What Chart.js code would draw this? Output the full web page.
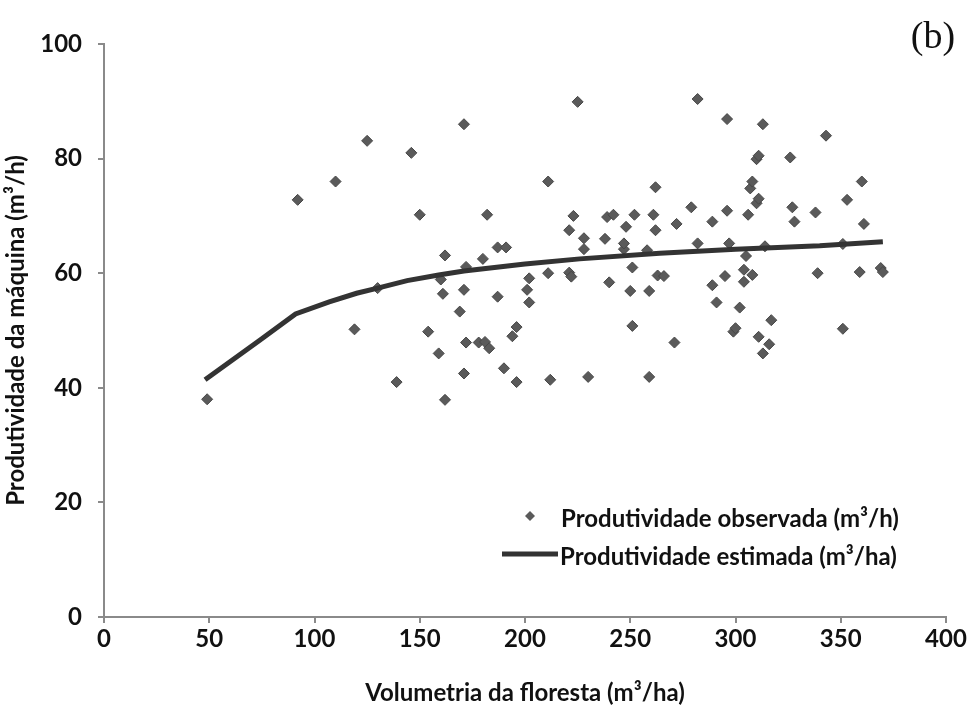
<!DOCTYPE html>
<html>
<head>
<meta charset="utf-8">
<script src="https://cdn.jsdelivr.net/npm/chart.js@4"></script>
<style>
  html, body { margin: 0; padding: 0; background: #fff; }
  #wrap { position: relative; width: 973px; height: 712px; }
</style>
</head>
<body>
<div id="wrap"><canvas id="prodChart" width="973" height="712"></canvas></div>
<script>
const volObs = [49, 92, 110, 125, 130, 119,
  139, 146, 150, 154, 159, 160, 161, 162, 162, 169, 171, 172, 171, 172, 171, 178, 180, 181, 183, 182,
  187, 191, 187, 190, 194, 196, 196, 201, 202, 202, 211, 211, 212, 221, 222, 221, 223, 225, 228, 228,
  230, 238, 239, 242, 240, 247, 247, 248, 250, 251, 251, 252, 258, 259, 259, 261, 262, 262, 263,
  266, 271, 272, 279, 282, 282, 289, 289, 291, 295, 296, 296, 297, 299, 300, 302, 304, 305, 304,
  306, 307, 308, 308, 310, 311, 310, 311, 311, 313, 313, 314, 316, 317, 326, 327, 328, 338, 339,
  343, 351, 351, 353, 359, 360, 361, 369, 370];
const prodObs = [38, 72.8, 76, 83.1, 57.4, 50.2,
  41, 81, 70.2, 49.8, 46, 58.9, 56.4, 37.9, 63.1, 53.3, 86, 61.1, 57.1, 47.9, 42.5, 47.9, 62.5, 48, 46.9, 70.2,
  64.5, 64.5, 55.9, 43.4, 49, 50.6, 41, 57.1, 54.9, 59.1, 76, 60, 41.4, 60.1, 59.4, 67.5, 70, 89.9, 66.1, 64.2,
  41.9, 66, 69.8, 70.2, 58.4, 64.2, 65.2, 68.1, 56.9, 61, 50.8, 70.2, 64, 56.9, 41.9, 70.2, 67.5, 75, 59.6,
  59.5, 47.9, 68.6, 71.5, 90.4, 65.2, 69, 57.9, 54.9, 59.5, 70.9, 86.9, 65.2, 49.8, 50.4, 54, 60.6, 63, 58.5,
  70.2, 74.8, 76, 59.7, 79.9, 80.5, 72.2, 73, 48.9, 46, 86, 64.7, 47.6, 51.8, 80.2, 71.5, 69, 70.6, 60,
  84, 65.1, 50.3, 72.8, 60.2, 76, 68.6, 60.9, 60.2];

// estimated productivity curve
const volEst = [48, 74, 91, 107, 120, 130, 144, 159, 171, 200, 226, 264, 300, 340, 370];
const prodEst = [41.4, 48.3, 52.9, 55.0, 56.5, 57.4, 58.7, 59.7, 60.4, 61.6, 62.5, 63.5, 64.2, 64.8, 65.5];

const xTicks = [0, 50, 100, 150, 200, 250, 300, 350, 400];
const yTicks = [0, 20, 40, 60, 80, 100];

const seriesNames = ['Produtividade observada (m³/h)', 'Produtividade estimada (m³/ha)'];
const xTitle = 'Volumetria da floresta (m³/ha)';
const yTitle = 'Produtividade da máquina (m³/h)';
const panelLabel = '(b)';

const FONT = 'Lato, "Open Sans", sans-serif';
const TEXT = '#111111';
const axisGray = '#8a8a8a';

// legend drawn inside the plot area, plus the panel label
const insideLegend = {
  id: 'insideLegend',
  afterDraw(chart) {
    const ctx = chart.ctx;
    const ds = chart.data.datasets;
    ctx.save();
    ctx.font = 'bold 24px ' + FONT;
    ctx.textBaseline = 'middle';
    ctx.textAlign = 'left';

    // row 1: diamond marker
    const cx = 530, y1 = 516;
    ctx.beginPath();
    ctx.moveTo(cx - 5, y1); ctx.lineTo(cx, y1 - 5); ctx.lineTo(cx + 5, y1); ctx.lineTo(cx, y1 + 5);
    ctx.closePath();
    ctx.fillStyle = ds[0].backgroundColor;
    ctx.fill();
    ctx.fillStyle = TEXT;
    ctx.fillText(ds[0].label, 561, y1 + 3);

    // row 2: line
    const y2 = 554;
    ctx.strokeStyle = ds[1].borderColor;
    ctx.lineWidth = 5;
    ctx.beginPath();
    ctx.moveTo(502, y2); ctx.lineTo(558, y2);
    ctx.stroke();
    ctx.fillText(ds[1].label, 560, y2 + 3);

    // panel label
    ctx.font = '38px "Liberation Serif", "DejaVu Serif", serif';
    ctx.fillStyle = TEXT;
    ctx.textAlign = 'center';
    ctx.fillText(panelLabel, 933, 38);
    ctx.restore();
  }
};

const obsPoints = volObs.map((v, i) => ({ x: v, y: prodObs[i] }));
const estPoints = volEst.map((v, i) => ({ x: v, y: prodEst[i] }));

new Chart(document.getElementById('prodChart'), {
  type: 'scatter',
  data: {
    datasets: [
      {
        label: seriesNames[0],
        data: obsPoints,
        pointStyle: 'rectRot',
        pointRadius: 5.5,
        backgroundColor: '#5a5a5a',
        borderColor: '#474747',
        borderWidth: 1,
        order: 1
      },
      {
        label: seriesNames[1],
        data: estPoints,
        showLine: true,
        pointRadius: 0,
        borderColor: '#333333',
        borderWidth: 5,
        tension: 0,
        order: 0
      }
    ]
  },
  options: {
    responsive: false,
    animation: false,
    layout: { padding: { top: 44, right: 27, left: 0, bottom: 0 } },
    plugins: {
      legend: { display: false },
      tooltip: { enabled: false }
    },
    scales: {
      x: {
        type: 'linear',
        min: 0,
        max: 400,
        afterBuildTicks: axis => { axis.ticks = xTicks.map(v => ({ value: v })); },
        afterFit: axis => { axis.height = 95; },
        border: { color: axisGray, width: 2 },
        grid: { drawOnChartArea: false, drawTicks: true, tickLength: 6, color: axisGray, lineWidth: 2 },
        ticks: { color: TEXT, padding: 2, font: { family: FONT, size: 24, weight: 'bold' } },
        title: {
          display: true,
          text: xTitle,
          color: TEXT,
          padding: { top: 10, bottom: 4 },
          font: { family: FONT, size: 24, weight: 'bold' }
        }
      },
      y: {
        type: 'linear',
        min: 0,
        max: 100,
        afterBuildTicks: axis => { axis.ticks = yTicks.map(v => ({ value: v })); },
        afterFit: axis => { axis.width = 104; },
        border: { color: axisGray, width: 2 },
        grid: { drawOnChartArea: false, drawTicks: true, tickLength: 6, color: axisGray, lineWidth: 2 },
        ticks: { color: TEXT, padding: 16, font: { family: FONT, size: 24, weight: 'bold' } },
        title: {
          display: true,
          text: yTitle,
          color: TEXT,
          padding: { top: 2, bottom: 0 },
          font: { family: FONT, size: 24, weight: 'bold' }
        }
      }
    }
  },
  plugins: [insideLegend]
});
</script>
</body>
</html>
